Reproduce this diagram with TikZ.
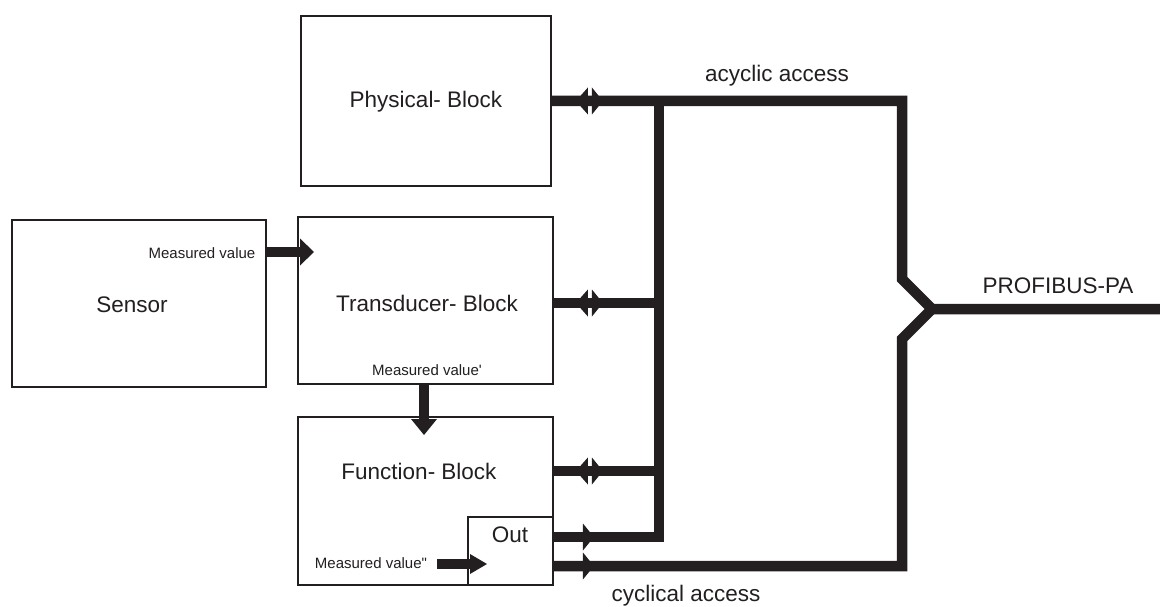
\documentclass[tikz,border=0pt]{standalone}
\usepackage{fontspec}
\setmainfont{Liberation Sans}
\usetikzlibrary{arrows.meta,decorations.markings}
\definecolor{ink}{RGB}{35,31,32}
\begin{document}
\begin{tikzpicture}[x=1pt,y=-1pt,
  blk/.style={draw=ink,line width=1.8pt,fill=white,inner sep=0pt},
  big/.style={font=\fontsize{22.5}{27}\selectfont,text=ink,inner sep=0pt},
  small/.style={font=\fontsize{15}{18}\selectfont,text=ink,inner sep=0pt},
  bus/.style={draw=ink,line width=10.5pt,line join=miter},
  flow/.style={draw=ink,line width=10pt},
  % two opposed heads on a bus stub, #1 = distance of the left tip from the box
  twoway/.style={postaction={decorate,decoration={markings,
      mark=at position #1pt with {
        \fill[ink] (0,0) -- (12,-13.5) -- (12,13.5) -- cycle;
        \fill[ink] (16,-13.5) -- (27,0) -- (16,13.5) -- cycle;}}}},
  oneway/.style={postaction={decorate,decoration={markings,
      mark=at position 29pt with {
        \fill[ink] (0,-13.5) -- (11,0) -- (0,13.5) -- cycle;}}}}
]
\useasboundingbox (0,0) rectangle (1160,607);

% function blocks
\node[blk,minimum width=250pt,minimum height=170pt] (phys) at (426,101) {};
\node[blk,minimum width=254pt,minimum height=167pt] (sensor) at (139,303.5) {};
\node[blk,minimum width=255pt,minimum height=167pt] (trans) at (425.5,300.5) {};
\node[blk,minimum width=255pt,minimum height=168pt] (func) at (425.5,501) {};
\node[blk,minimum width=85pt,minimum height=68pt] (out) at (510.5,551) {};

\node[big] (tphys) at (426,102) {Physical- Block};
\node[big] (tsens) at (132,305) {Sensor};
\node[big] (ttrans) at (427,303) {Transducer- Block};
\node[big] (tfunc) at (419,471) {Function- Block};
\node[big] (tout) at (510,535) {Out};

% bus geometry
\coordinate (ja) at (659,101);
\coordinate (ne) at (902,101);
\coordinate (ua) at (902,279);
\coordinate (hub) at (932,309);
\coordinate (pa) at (1160,309);
\coordinate (lb) at (902,339);
\coordinate (se) at (902,566);
\coordinate (tj) at (659,303);
\coordinate (fj) at (659,471);
\coordinate (oj) at (659,537);

\draw[bus,twoway=24] (phys.east) -- (ne) -- (ua) -- (hub) -- (pa);
\draw[bus,twoway=22] (trans.east |- tj) -- (tj);
\draw[bus,twoway=22] (func.east |- fj) -- (fj);
\draw[bus,oneway] (out.east |- oj) -- (oj) -- (ja);
\draw[bus,oneway] (out.east |- se) -- (se) -- (lb) -- (hub);

% measured value flow
\coordinate (m1) at (314,252);
\coordinate (m2) at (424,435);
\coordinate (m3s) at (437,564);
\coordinate (m3) at (487,564);
\draw[flow,-{Triangle[length=14pt,width=27pt,line width=0pt]}] (sensor.east |- m1) -- (m1);
\draw[flow,-{Triangle[length=16pt,width=26pt,line width=0pt]}] (trans.south -| m2) -- (m2);
\draw[flow,-{Triangle[length=17pt,width=20pt,line width=0pt]}] (m3s) -- (m3);

\node[small] (mv1) at (202,253) {Measured value};
\node[small] (mv2) at (427,370) {Measured value\textquotesingle};
\node[small] (mv3) at (371,563) {Measured value\textquotedbl};

% bus labels
\node[big] (lacy) at (777,76) {acyclic access};
\node[big] (lcyc) at (686,596) {cyclical access};
\node[big] (lpa) at (1058,286) {PROFIBUS-PA};
\end{tikzpicture}
\end{document}
